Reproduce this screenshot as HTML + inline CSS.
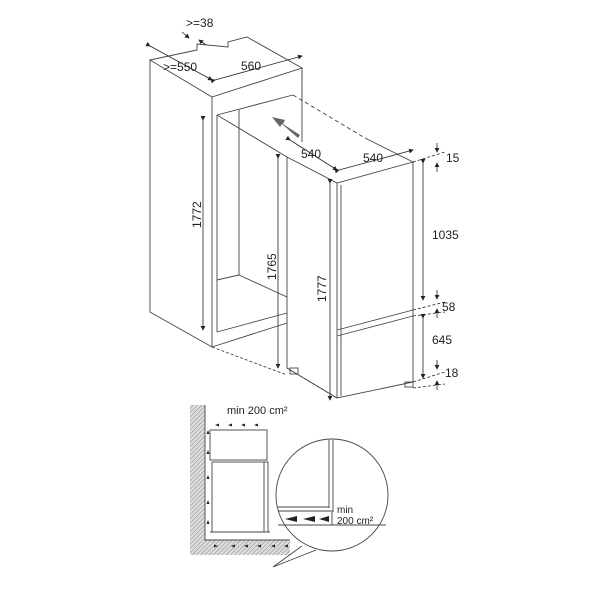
<!DOCTYPE html>
<html><head><style>body{margin:0;background:#fff}svg{display:block}text{font-family:"Liberation Sans",sans-serif;fill:#222}</style></head>
<body>
<svg width="600" height="600" viewBox="0 0 600 600" xmlns="http://www.w3.org/2000/svg">
<defs>
<pattern id="h" width="3" height="3" patternUnits="userSpaceOnUse" patternTransform="rotate(45)"><rect width="3" height="3" fill="#ddd"/><line x1="0" y1="0" x2="0" y2="3" stroke="#888" stroke-width="1"/></pattern>
<marker id="a" markerWidth="6" markerHeight="6" refX="5" refY="3" orient="auto"><path d="M0,0L6,3L0,6z" fill="#222"/></marker>
</defs>
<g fill="none" stroke="#444" stroke-width="0.9">
<!-- niche -->
<path d="M150,60 L197,50 L197,44 L228,47 L228,42 L247,37 L302,68 L212,97 Z"/>
<path d="M150,60 L150,312 L212,347 L212,97"/>
<path d="M302,68 L302,142"/>
<path d="M217,115 L217,332 M217,115 L293,95 M239,110 L239,275 L217,280 M239,275 L287,297 M217,332 L287,313 M212,347 L287,323"/>
<path d="M217,115 L287,157"/>
<path d="M302,72 L302,97" stroke-dasharray="3,2"/>
<!-- fridge -->
<path d="M287,157 L337,183 L413,162 L365,138"/>
<path d="M337,183 L337,398 L413,382 L413,162 M287,157 L287,368 L337,398"/>
<path d="M341,185 L341,396"/>
<path d="M337,330 L413,310 M337,336 L413,316"/>
<path d="M293,95 L365,138" stroke-dasharray="4,3"/>
<path d="M212,347 L287,375 M287,368 L337,398" stroke-dasharray="3,2"/>
<rect x="290" y="368" width="8" height="6"/><rect x="405" y="382" width="8" height="5"/>
</g>
<!-- dimension lines -->
<g stroke="#222" stroke-width="0.8" fill="none">
<path d="M203,120 L203,330" marker-start="url(#a)" marker-end="url(#a)"/>
<path d="M278,158 L278,368" marker-start="url(#a)" marker-end="url(#a)"/>
<path d="M330,183 L330,400" marker-start="url(#a)" marker-end="url(#a)"/>
<path d="M423,163 L423,300" marker-start="url(#a)" marker-end="url(#a)"/>
<path d="M423,318 L423,378" marker-start="url(#a)" marker-end="url(#a)"/>
<path d="M437,143 L437,152" marker-end="url(#a)"/><path d="M437,172 L437,163" marker-end="url(#a)"/>
<path d="M437,290 L437,299" marker-end="url(#a)"/><path d="M437,318 L437,309" marker-end="url(#a)"/>
<path d="M437,360 L437,369" marker-end="url(#a)"/><path d="M437,390 L437,381" marker-end="url(#a)"/>
<path d="M150,46 L212,80" marker-start="url(#a)" marker-end="url(#a)" stroke-dasharray="0"/>
<path d="M215,80 L302,56" marker-start="url(#a)" marker-end="url(#a)"/>
<path d="M290,140 L337,170" marker-start="url(#a)" marker-end="url(#a)"/>
<path d="M339,170 L413,150" marker-start="url(#a)" marker-end="url(#a)"/>
<path d="M182,32 L189,38" marker-end="url(#a)"/><path d="M206,45 L199,40" marker-end="url(#a)"/>
<path d="M413,162 L445,152 M413,310 L445,302 M413,316 L445,312 M413,382 L445,372 M413,388 L445,384" stroke-dasharray="3,2"/>
</g>
<path d="M300,135 L283,124 L285,120 L272,117 L280,127 L282,124 L298,138 Z" fill="#666"/>
<text x="186" y="27" font-size="12">&gt;=38</text>
<text x="163" y="71" font-size="12">&gt;=550</text>
<text x="241" y="70" font-size="12">560</text>
<text x="301" y="158" font-size="12">540</text>
<text x="363" y="162" font-size="12">540</text>
<text x="446" y="162" font-size="12">15</text>
<text x="432" y="239" font-size="12">1035</text>
<text x="442" y="311" font-size="12">58</text>
<text x="432" y="344" font-size="12">645</text>
<text x="445" y="377" font-size="12">18</text>
<text font-size="12" transform="translate(201,228) rotate(-90)">1772</text>
<text font-size="12" transform="translate(276,280) rotate(-90)">1765</text>
<text font-size="12" transform="translate(326,302) rotate(-90)">1777</text>
<!-- bottom diagram -->
<rect x="190" y="405" width="15" height="150" fill="url(#h)"/>
<rect x="190" y="540" width="100" height="15" fill="url(#h)"/>
<g fill="none" stroke="#444" stroke-width="0.9">
<path d="M205,405 L205,540 L290,540"/>
<rect x="210" y="430" width="57" height="30"/><rect x="212" y="462" width="56" height="70"/>
<path d="M264,462 L264,532 M210,532 L270,532"/>
<circle cx="332" cy="495" r="56" fill="#fff"/>
<path d="M302,546 L273,567 L316,550"/>
<path d="M329,440 L329,508 M333,440 L333,512 M278,507 L329,507 M278,511 L333,511 M278,525 L386,525 M332,512 L332,525"/>
</g>
<g fill="#222" font-size="10">
<text x="227" y="414" font-size="11">min 200 cm²</text>
<text x="337" y="513" font-size="10">min</text>
<text x="337" y="524" font-size="10">200 cm²</text>
<path d="M285,519 L297,516 L297,522Z M303,519 L315,516 L315,522Z M319,519 L329,516 L329,522Z"/>
<path d="M215,425l4,-1.5v3z M228,425l4,-1.5v3z M241,425l4,-1.5v3z M254,425l4,-1.5v3z"/>
<path d="M218,546l-4,-1.5v3z M231,546l4,-1.5v3z M244,546l4,-1.5v3z M257,546l4,-1.5v3z M271,546l4,-1.5v3z M284,546l4,-1.5v3z"/>
<path d="M208,430l-1.5,4h3z M208,450l-1.5,4h3z M208,475l-1.5,4h3z M208,500l-1.5,4h3z M208,520l-1.5,4h3z"/>
</g>
</svg>
</body></html>
